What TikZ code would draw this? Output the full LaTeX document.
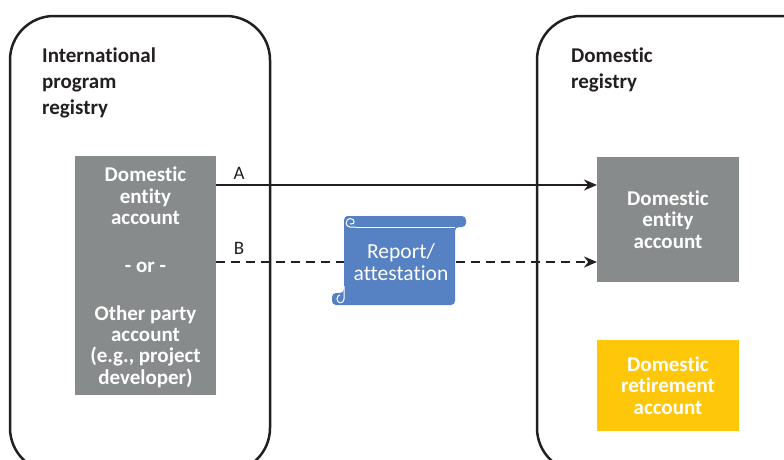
\documentclass[tikz,border=0pt]{standalone}
\usepackage{fontspec}
\setmainfont[Ligatures=NoCommon]{Carlito}
\usepackage{xcolor}
\usetikzlibrary{positioning, arrows.meta}
\definecolor{acctgray}{HTML}{888B8B}
\definecolor{acctgold}{HTML}{FFC709}
\definecolor{scrollblue}{HTML}{5681C3}
\definecolor{linedark}{HTML}{231F20}
\tikzset{
	registry/.style={draw=linedark, line width=2.5pt, outer sep=0pt, rounded corners=44pt, anchor=north west},
	account/.style={anchor=north west, text=white, align=center, inner sep=0pt, outer sep=0pt,
		font=\fontsize{21}{21.4}\selectfont\bfseries},
	regtitle/.style={anchor=north west, align=left, inner sep=0pt, text=linedark,
		font=\fontsize{21}{26}\selectfont\bfseries},
	link/.style={draw=linedark, line width=2.7pt, -{Stealth[length=13pt,width=11pt]}},
	letter/.style={inner sep=0pt, text=linedark, font=\fontsize{19}{20}\selectfont},
}
\begin{document}
\begin{tikzpicture}[x=1pt, y=-1pt]
		\useasboundingbox (0,0) rectangle (784,459);
		\clip (0,0) rectangle (784,459);

		% Registries
		\node (reg_int) [registry, minimum width=260pt, minimum height=456pt] at (10,16) {};
		\node (reg_dom) [registry, minimum width=300pt, minimum height=456pt] at (537,16) {};
		\node (title_int) [regtitle] at (42,48) {International\\program\\registry};
		\node (title_dom) [regtitle] at (571,48) {Domestic\\registry};

		% Accounts
		\node (acct_int) [account, fill=acctgray, minimum width=141pt, minimum height=239pt] at (75,156) {};
		\node (acct_dom) [account, fill=acctgray, minimum width=142pt, minimum height=125pt] at (597,157) {};
		\node (acct_ret) [account, fill=acctgold, minimum width=142pt, minimum height=91pt] at (597,340) {};
		\node (txt_int) [account, anchor=north] at (145.5,167) {Domestic\\entity\\account\\[26.4pt]- or -\\[26.4pt]Other party\\account\\(e.g., project\\developer)};
		\node (txt_dom) [account, anchor=center] at (acct_dom.center) {Domestic\\entity\\account};
		\node (txt_ret) [account, anchor=center] at (acct_ret.center) {Domestic\\retirement\\account};

		% Arrows
		\coordinate (a_out) at (216,185);
		\coordinate (a_in) at (597,185);
		\coordinate (b_out) at (216,262);
		\coordinate (b_in) at (597,262);
		\draw[link] (a_out) -- (a_in);
		\draw[link, dash pattern=on 9pt off 6pt] (b_out) -- (b_in);
		\node (lbl_a) [letter] at (239,173) {A};
		\node (lbl_b) [letter] at (239,248) {B};

		% Scroll
		\fill[scrollblue, rounded corners=4pt] (350,216) -- (466,216) -- (466,227) -- (455,227) -- (455,305) -- (332,305)
			-- (332,293) -- (344,293) -- (344,216) -- cycle;
		\draw[white, line width=1pt] (356,227) -- (455,227);
		\draw[white, line width=1pt] (356,227) -- (350,227) .. controls (345,227) and (345,219) .. (350,218.5)
			.. controls (355,218.5) and (356,225) .. (350,224);
		\draw[white, line width=1pt] (344,286) -- (344,299) .. controls (344,304) and (337,304) .. (337,299)
			.. controls (337,296) and (339,295) .. (340,295);
		\node (report) [inner sep=0pt, align=center, text=white, font=\fontsize{21.5}{22}\selectfont] at (401,262) {Report/\\attestation};
	\end{tikzpicture}
\end{document}
